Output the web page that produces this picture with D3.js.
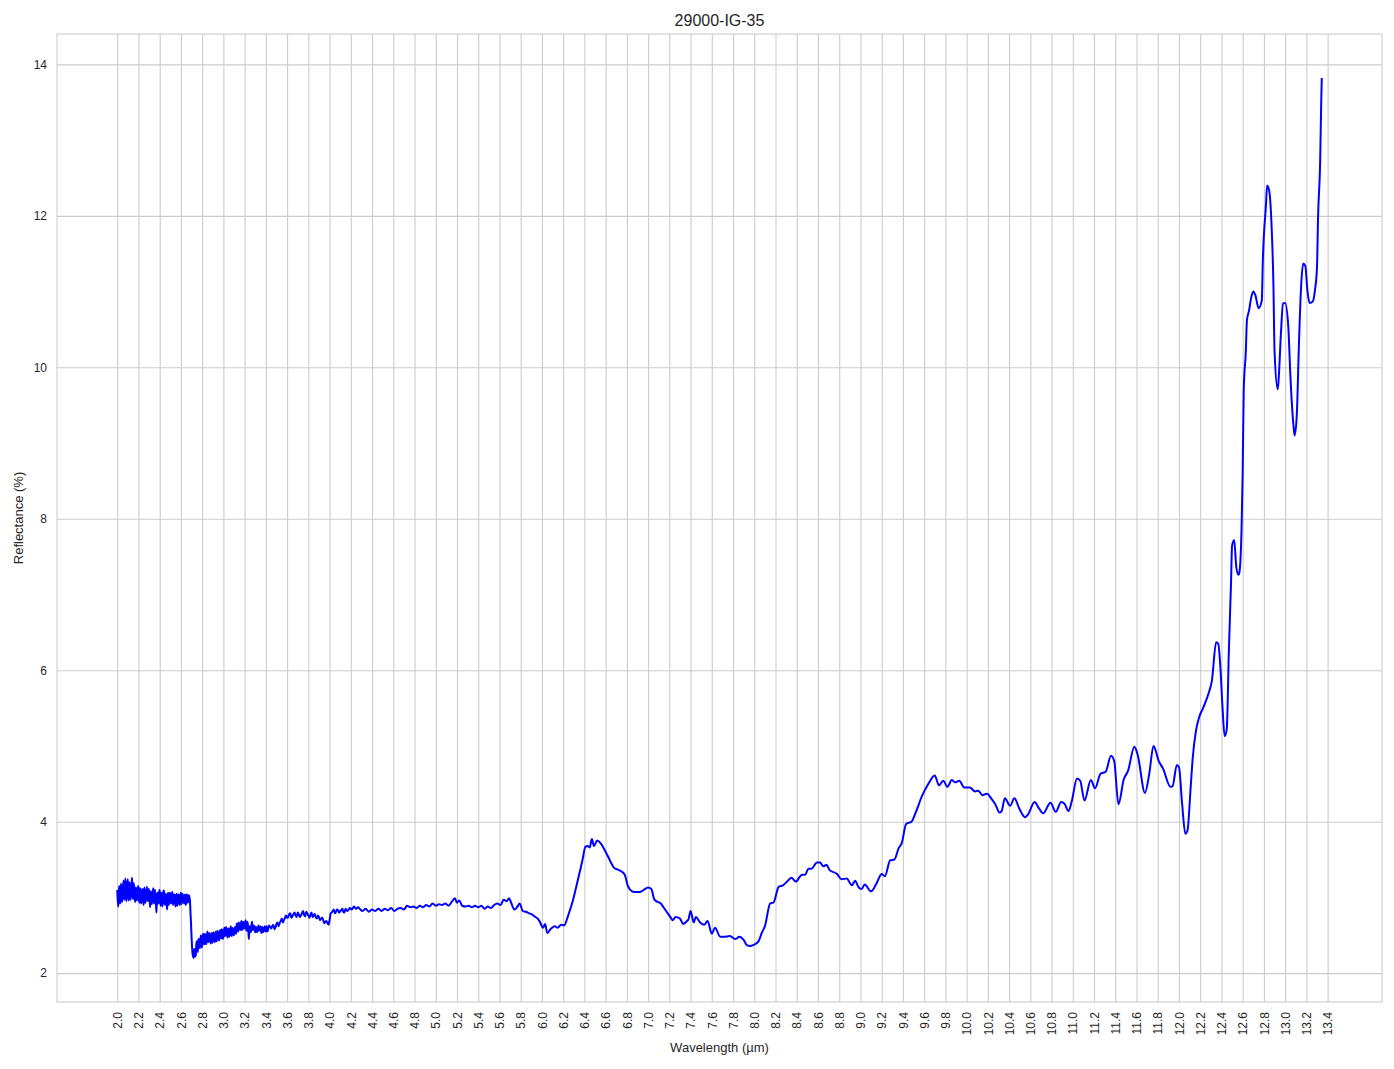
<!DOCTYPE html>
<html><head><meta charset="utf-8">
<script src="https://cdn.jsdelivr.net/npm/d3@7"></script>
<style>
body{margin:0;background:#fff;}
text{font-family:"Liberation Sans",Arial,sans-serif;fill:#262626;}
</style>
</head><body>
<svg id="chart" width="1394" height="1069"></svg>
<script>
const chartTitle = "29000-IG-35";
const xAxisLabel = "Wavelength (µm)";
const yAxisLabel = "Reflectance (%)";
const xTicks = [2.0,2.2,2.4,2.6,2.8,3.0,3.2,3.4,3.6,3.8,4.0,4.2,4.4,4.6,4.8,5.0,5.2,5.4,5.6,5.8,6.0,6.2,6.4,6.6,6.8,7.0,7.2,7.4,7.6,7.8,8.0,8.2,8.4,8.6,8.8,9.0,9.2,9.4,9.6,9.8,10.0,10.2,10.4,10.6,10.8,11.0,11.2,11.4,11.6,11.8,12.0,12.2,12.4,12.6,12.8,13.0,13.2,13.4];
const yTicks = [2,4,6,8,10,12,14];

// [wavelength µm, reflectance %]
const spectrumNoisy = [
[2.00,3.10],[2.01,2.88],[2.02,3.15],[2.03,2.95],[2.04,3.12],[2.05,3.00],[2.06,3.22],[2.07,2.97],[2.08,3.18],[2.09,3.02],
[2.10,3.24],[2.11,2.96],[2.12,3.14],[2.13,3.05],[2.14,3.26],[2.15,2.98],[2.16,3.12],[2.17,2.94],[2.18,3.10],[2.19,3.00],
[2.20,3.13],[2.21,2.93],[2.22,3.08],[2.23,2.97],[2.24,3.11],[2.25,2.90],[2.26,3.06],[2.27,2.99],[2.28,3.14],[2.29,2.95],
[2.30,3.09],[2.31,2.87],[2.32,3.05],[2.33,2.96],[2.34,3.12],[2.35,2.92],[2.36,3.03],[2.37,2.80],[2.38,3.06],[2.39,2.94],
[2.40,3.10],[2.41,2.89],[2.42,3.04],[2.43,2.97],[2.44,3.08],[2.45,2.90],[2.46,3.02],[2.47,2.84],[2.48,3.06],[2.49,2.95],
[2.50,3.04],[2.51,2.92],[2.52,3.07],[2.53,2.96],[2.54,3.03],[2.55,2.88],[2.56,3.05],[2.57,2.93],[2.58,3.02],[2.59,2.90],
[2.60,3.06],[2.61,2.94],[2.62,3.01],[2.63,2.92],[2.64,3.04],[2.65,2.95],[2.66,3.02],[2.67,2.97],[2.68,3.00],[2.69,2.80],
[2.70,2.48],[2.71,2.25],[2.72,2.20],[2.73,2.30],[2.74,2.24],[2.75,2.42],[2.76,2.28],[2.77,2.45],[2.78,2.33],[2.79,2.50],
[2.80,2.36],[2.81,2.52],[2.82,2.38],[2.83,2.49],[2.84,2.40],[2.85,2.55],[2.86,2.42],[2.87,2.50],[2.88,2.39],[2.89,2.53],
[2.90,2.44],[2.91,2.51],[2.92,2.41],[2.93,2.55],[2.94,2.45],[2.95,2.52],[2.96,2.43],[2.97,2.57],[2.98,2.46],[2.99,2.56],
[3.00,2.48],[3.01,2.60],[3.02,2.50],[3.03,2.57],[3.04,2.47],[3.05,2.59],[3.06,2.51],[3.07,2.62],[3.08,2.49],[3.09,2.56],
[3.10,2.50],[3.11,2.61],[3.12,2.52],[3.13,2.66],[3.14,2.55],[3.15,2.64],[3.16,2.57],[3.17,2.69],[3.18,2.58],[3.19,2.66],
[3.20,2.60],[3.21,2.70],[3.22,2.56],[3.23,2.65],[3.24,2.45],[3.25,2.62],[3.26,2.55],[3.27,2.68],[3.28,2.58],[3.29,2.62],
[3.30,2.54],[3.31,2.60],[3.32,2.55],[3.33,2.63],[3.34,2.57],[3.35,2.61],[3.36,2.53],[3.37,2.59],[3.38,2.56],[3.39,2.62],
[3.40,2.55],[3.41,2.60],[3.42,2.57],[3.43,2.63]
];
const spectrumNoisyHalfSteps = [
[2.005,2.96],[2.015,3.08],[2.025,2.92],[2.035,3.18],[2.045,2.94],[2.055,3.14],[2.065,3.01],[2.075,3.25],[2.085,2.95],[2.095,3.15],
[2.105,3.00],[2.115,3.20],[2.125,2.97],[2.135,3.17],[2.145,3.03],[2.155,3.19],[2.165,2.99],[2.175,3.13],[2.185,2.96],[2.195,3.15],
[2.205,2.98],[2.215,3.12],[2.225,2.92],[2.235,3.09],[2.245,2.95],[2.255,3.13],[2.265,2.93],[2.275,3.07],[2.285,2.97],[2.295,3.11],
[2.305,2.98],[2.315,3.08],[2.325,2.91],[2.335,3.07],[2.345,2.95],[2.355,3.10],[2.365,2.90],[2.375,3.02],[2.385,2.92],[2.395,3.07],
[2.405,2.94],[2.415,3.06],[2.425,2.88],[2.435,3.09],[2.445,2.93],[2.455,3.05],[2.465,2.92],[2.475,3.03],[2.485,2.90],[2.495,3.06],
[2.505,2.94],[2.515,3.05],[2.525,2.90],[2.535,3.04],[2.545,2.93],[2.555,3.02],[2.565,2.89],[2.575,3.04],[2.585,2.94],[2.595,3.03],
[2.605,2.91],[2.615,3.05],[2.625,2.95],[2.635,3.02],[2.645,2.90],[2.655,3.04],[2.665,2.93],[2.675,3.03],[2.685,2.96],[2.695,2.66],
[2.725,2.32],[2.735,2.22],[2.745,2.38],[2.755,2.30],[2.765,2.44],[2.775,2.35],[2.785,2.46],[2.795,2.34],[2.805,2.47],[2.815,2.40],
[2.825,2.52],[2.835,2.38],[2.845,2.50],[2.855,2.41],[2.865,2.53],[2.875,2.44],[2.885,2.51],[2.895,2.40],[2.905,2.54],[2.915,2.43],
[2.925,2.52],[2.935,2.42],[2.945,2.56],[2.955,2.46],[2.965,2.54],[2.975,2.47],[2.985,2.58],[2.995,2.45],[3.005,2.55],[3.015,2.49],
[3.025,2.61],[3.035,2.50],[3.045,2.58],[3.055,2.48],[3.065,2.57],[3.075,2.50],[3.085,2.60],[3.095,2.51],[3.105,2.58],[3.115,2.53],
[3.125,2.63],[3.135,2.56],[3.145,2.67],[3.155,2.58],[3.165,2.66],[3.175,2.57],[3.185,2.68],[3.195,2.59],[3.205,2.67],[3.215,2.58],
[3.225,2.68],[3.235,2.55],[3.245,2.60],[3.255,2.54],[3.265,2.64],[3.275,2.57],[3.285,2.63],[3.295,2.56],[3.305,2.61],[3.315,2.54],
[3.325,2.59],[3.335,2.56],[3.345,2.62],[3.355,2.55],[3.365,2.61],[3.375,2.54],[3.385,2.60],[3.395,2.56],[3.405,2.62],[3.415,2.55],
[3.425,2.61],
[3.46,2.62],[3.48,2.58],[3.50,2.65],[3.52,2.62],[3.54,2.69],[3.56,2.67],[3.58,2.73],[3.60,2.73],[3.62,2.78],[3.64,2.73],
[3.66,2.78],[3.68,2.76],[3.70,2.80],[3.72,2.74],[3.74,2.79],[3.76,2.77],[3.78,2.81],[3.80,2.76],[3.82,2.77],[3.84,2.74],
[3.86,2.78],[3.88,2.72],[3.90,2.74],[3.92,2.72],[3.94,2.70],[3.96,2.68],[3.98,2.66],[4.00,2.70],
[4.02,2.80],[4.04,2.84],[4.06,2.81],[4.08,2.83],[4.10,2.82],[4.12,2.85],[4.14,2.80],[4.16,2.83],[4.18,2.84]
];
const spectrumMid = [
[3.45,2.59],[3.47,2.64],[3.49,2.60],[3.51,2.67],[3.53,2.66],[3.55,2.72],[3.57,2.70],[3.59,2.76],
[3.61,2.74],[3.63,2.79],[3.65,2.75],[3.67,2.80],[3.69,2.74],[3.71,2.78],[3.73,2.76],[3.75,2.82],[3.77,2.75],[3.79,2.79],
[3.81,2.73],[3.83,2.80],[3.85,2.76],[3.87,2.74],[3.89,2.76],[3.91,2.70],[3.93,2.73],[3.95,2.66],[3.97,2.69],[3.99,2.64],
[4.01,2.79],[4.03,2.82],[4.05,2.79],[4.07,2.84],[4.09,2.80],[4.11,2.83],[4.13,2.81],[4.15,2.85],[4.17,2.82],[4.19,2.86],
[4.21,2.84],[4.23,2.88],[4.25,2.85],[4.27,2.87],[4.29,2.84],[4.31,2.82],[4.34,2.85],[4.37,2.81],[4.40,2.84],[4.43,2.82],
[4.46,2.85],[4.49,2.82],[4.52,2.85],[4.55,2.83],[4.58,2.86],[4.61,2.82],[4.64,2.85],[4.67,2.86],[4.70,2.84],[4.73,2.89],
[4.76,2.87],[4.79,2.88],[4.82,2.86],[4.85,2.89],[4.88,2.87],[4.91,2.90],[4.94,2.88],[4.97,2.92],[5.00,2.89],[5.03,2.91],
[5.06,2.90],[5.09,2.92],[5.12,2.89],[5.15,2.94],[5.18,2.99],[5.20,2.93],[5.22,2.96],[5.25,2.89],[5.28,2.88],[5.31,2.89],
[5.34,2.87],[5.37,2.89],[5.40,2.87],[5.43,2.89],[5.46,2.85],[5.49,2.88],[5.52,2.86],[5.55,2.90],[5.58,2.92],[5.61,2.90],
[5.64,2.97],[5.67,2.95],[5.69,2.99],[5.71,2.93],[5.74,2.84],[5.77,2.88],[5.79,2.92],[5.82,2.82],[5.85,2.81],[5.88,2.79],
[5.90,2.78],[5.93,2.75],[5.96,2.72],[5.98,2.68],[6.01,2.60],[6.03,2.65],[6.05,2.53],[6.08,2.58],[6.12,2.62],[6.15,2.60],
[6.18,2.64],[6.21,2.63],[6.24,2.73],[6.27,2.86],[6.29,2.95],[6.32,3.12],[6.35,3.30],[6.38,3.48],[6.41,3.67],[6.43,3.68],
[6.45,3.66],[6.47,3.77],[6.49,3.68],[6.52,3.75],[6.55,3.72],[6.57,3.68],[6.60,3.60],[6.63,3.52],[6.65,3.46],[6.68,3.39],
[6.71,3.37],[6.74,3.35],[6.78,3.30],[6.81,3.15],[6.85,3.08],[6.88,3.07],[6.92,3.07],[6.96,3.10],[7.00,3.13],[7.03,3.11],
[7.06,2.97],[7.09,2.94],[7.12,2.92],[7.15,2.86],[7.18,2.80],[7.21,2.74],[7.23,2.70],[7.26,2.74],[7.30,2.72],[7.33,2.65],
[7.36,2.68],[7.38,2.71],[7.40,2.82],[7.43,2.67],[7.45,2.74],[7.49,2.67],[7.53,2.64],[7.56,2.69],[7.60,2.52],[7.63,2.60],
[7.68,2.48],[7.72,2.48],[7.77,2.49],[7.82,2.45],[7.86,2.48],[7.90,2.44],[7.93,2.37],[7.96,2.36],[7.99,2.37],[8.04,2.42],
[8.07,2.53],[8.10,2.62],[8.15,2.92],[8.18,2.93],[8.23,3.14],[8.27,3.16],[8.31,3.21],[8.35,3.26],[8.39,3.21],[8.45,3.30],
[8.48,3.30],[8.51,3.38],[8.54,3.38],[8.59,3.46],[8.62,3.46],[8.65,3.41],[8.68,3.43],[8.71,3.36],[8.78,3.31],[8.82,3.24],
[8.87,3.25],[8.92,3.16],[8.95,3.22],[8.98,3.14],[9.01,3.11],[9.04,3.17],[9.10,3.08],[9.15,3.18],[9.20,3.31],[9.23,3.28],
[9.28,3.49],[9.32,3.50],[9.36,3.65],[9.39,3.72],[9.43,3.97],[9.48,4.00],[9.52,4.12],[9.58,4.34],[9.64,4.50],[9.70,4.61],
[9.74,4.48],[9.78,4.54],[9.82,4.46],[9.86,4.55],[9.89,4.52],[9.93,4.54],[9.98,4.45],[10.03,4.45],[10.08,4.40],[10.11,4.41],
[10.15,4.35],[10.19,4.37],[10.24,4.29],[10.27,4.23],[10.31,4.12],[10.33,4.14],[10.36,4.31],[10.41,4.21],[10.45,4.31],[10.50,4.16],
[10.55,4.06],[10.58,4.10],[10.64,4.26],[10.68,4.18],[10.72,4.11],[10.79,4.25],[10.84,4.13],[10.89,4.26],[10.92,4.24],[10.96,4.14],
[10.99,4.27],[11.04,4.57],[11.07,4.54],[11.11,4.28],[11.17,4.55],[11.21,4.44],[11.26,4.63],[11.31,4.66],[11.36,4.87],[11.39,4.80],
[11.43,4.23],[11.48,4.56],[11.52,4.67],[11.58,4.99],[11.61,4.89],[11.68,4.38],[11.72,4.63],[11.76,5.00],[11.81,4.80],[11.85,4.70],
[11.92,4.46],[11.94,4.47],[11.98,4.75],[12.00,4.72],[12.03,4.23],[12.06,3.84],[12.08,3.88],[12.11,4.45],[12.13,4.85],[12.16,5.20]
];
const spectrumTail = [
[12.19,5.38],[12.23,5.51],[12.28,5.70],[12.31,5.86],[12.35,6.37],[12.37,6.35],[12.39,6.04],[12.41,5.51],[12.43,5.13],[12.45,5.22],
[12.47,6.26],[12.49,7.14],[12.50,7.64],[12.52,7.72],[12.54,7.36],[12.56,7.26],[12.57,7.30],[12.59,7.90],[12.60,8.60],[12.61,9.70],
[12.63,10.22],[12.64,10.62],[12.66,10.75],[12.68,10.92],[12.70,11.00],[12.72,10.95],[12.75,10.78],[12.78,10.88],[12.79,11.41],[12.82,12.16],
[12.83,12.40],[12.85,12.33],[12.87,11.94],[12.89,11.06],[12.90,10.22],[12.93,9.71],[12.94,9.87],[12.96,10.44],[12.98,10.84],[13.00,10.85],
[13.03,10.53],[13.05,9.87],[13.08,9.21],[13.09,9.10],[13.11,9.38],[13.13,10.31],[13.15,11.06],[13.17,11.37],[13.19,11.34],[13.21,11.01],
[13.23,10.85],[13.26,10.87],[13.28,11.01],[13.30,11.32],[13.31,11.98],[13.33,12.73],[13.34,13.52],[13.345,13.82]
];
const spectrum = spectrumNoisy.concat(spectrumNoisyHalfSteps, spectrumMid, spectrumTail)
  .sort((a, b) => a[0] - b[0]);

const W = 1394, H = 1069;
const plot = {left: 57, right: 1382, top: 34, bottom: 1002};
const svg = d3.select("#chart");
svg.append("rect").attr("width", W).attr("height", H).attr("fill", "#fff");

function padded(ext) { const p = (ext[1] - ext[0]) * 0.05; return [ext[0] - p, ext[1] + p]; }
const x = d3.scaleLinear().domain(padded(d3.extent(spectrum, d => d[0]))).range([plot.left, plot.right]);
const y = d3.scaleLinear().domain(padded(d3.extent(spectrum, d => d[1]))).range([plot.bottom, plot.top]);

const gridColor = "#cccccc";
const gx = svg.append("g").attr("transform", `translate(0,${plot.bottom})`)
  .call(d3.axisBottom(x).tickValues(xTicks).tickFormat(d3.format(".1f"))
    .tickSize(-(plot.bottom - plot.top)).tickPadding(0));
gx.select(".domain").remove();
gx.selectAll(".tick line").attr("stroke", gridColor).attr("stroke-width", 1.1);
gx.selectAll(".tick text")
  .attr("transform", "rotate(-90)")
  .attr("x", -10).attr("y", 0).attr("dy", "0.35em")
  .attr("text-anchor", "end")
  .style("font-size", "12px").attr("fill", "#262626");

const gy = svg.append("g").attr("transform", `translate(${plot.left},0)`)
  .call(d3.axisLeft(y).tickValues(yTicks).tickFormat(d3.format("d"))
    .tickSize(-(plot.right - plot.left)).tickPadding(10));
gy.select(".domain").remove();
gy.selectAll(".tick line").attr("stroke", gridColor).attr("stroke-width", 1.1);
gy.selectAll(".tick text").style("font-size", "12px").attr("fill", "#262626");

svg.selectAll("g").attr("font-family", null);

const line = d3.line().x(d => x(d[0])).y(d => y(d[1])).curve(d3.curveMonotoneX);
svg.append("path").datum(spectrum)
  .attr("d", line).attr("fill", "none")
  .attr("stroke", "#0000ff").attr("stroke-width", 2).attr("stroke-linejoin", "round");

svg.append("rect").attr("x", plot.left).attr("y", plot.top)
  .attr("width", plot.right - plot.left).attr("height", plot.bottom - plot.top)
  .attr("fill", "none").attr("stroke", gridColor).attr("stroke-width", 1.1);

svg.append("text").attr("x", (plot.left + plot.right) / 2).attr("y", 26)
  .attr("text-anchor", "middle").style("font-size", "16px").text(chartTitle);
svg.append("text").attr("x", (plot.left + plot.right) / 2).attr("y", 1052)
  .attr("text-anchor", "middle").style("font-size", "13px").text(xAxisLabel);
svg.append("text").attr("transform", `translate(23,${(plot.top + plot.bottom) / 2}) rotate(-90)`)
  .attr("text-anchor", "middle").style("font-size", "13px").text(yAxisLabel);
</script>
</body></html>
